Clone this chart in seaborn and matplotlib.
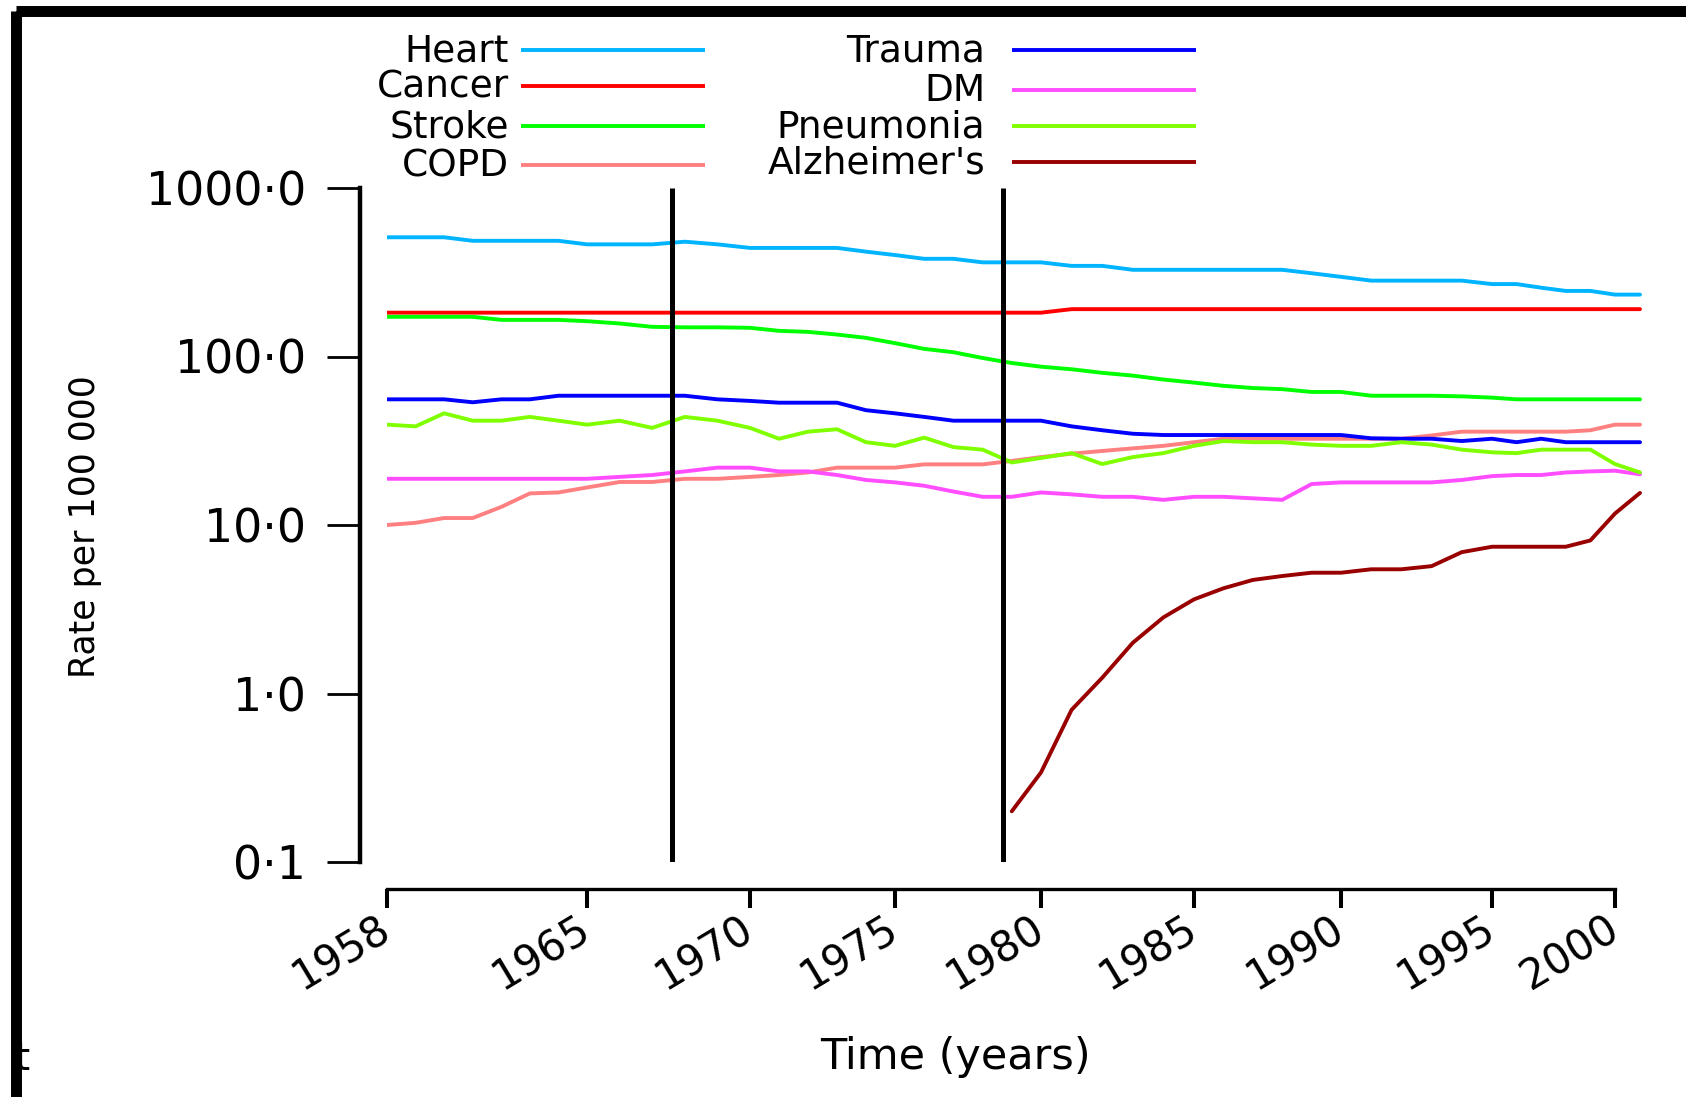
import numpy as np
import pandas as pd
import matplotlib
matplotlib.use("Agg")
import matplotlib.pyplot as plt
import seaborn as sns
from matplotlib.lines import Line2D
from matplotlib.patches import Rectangle
from matplotlib.ticker import NullLocator
from matplotlib.transforms import Affine2D

# ---------------- data ----------------
years = list(range(1958, 2002))
heart = [510, 510, 510, 486, 486, 486, 486, 463, 463, 463,
         480, 463, 441, 441, 441, 441, 419, 400, 380, 380,
         362, 362, 362, 345, 345, 327, 327, 327, 327, 327,
         327, 312, 297, 282, 282, 282, 282, 269, 269, 256,
         245, 245, 233, 233]
cancer = [182] * 23 + [191] * 21
stroke = [172, 172, 172, 172, 165, 165, 165, 162, 157, 150,
          149, 149, 148, 142, 140, 135, 129, 120, 111, 106,
          98, 91.5, 87, 84, 80, 77, 73, 70, 67, 65,
          64, 61.6, 61.6, 58.5, 58.5, 58.5, 58, 57, 55.7, 55.7,
          55.7, 55.7, 55.7, 55.7]
copd = [10.0, 10.3, 11, 11, 12.8, 15.4, 15.6, 16.7, 18, 18,
        18.8, 18.8, 19.3, 19.8, 20.5, 21.9, 21.9, 21.9, 22.9, 22.9,
        22.9, 24, 25.3, 26.5, 27.5, 28.5, 29.5, 31, 32.5, 32.5,
        32.5, 32.5, 32.5, 32.5, 32.5, 34, 35.8, 35.8, 35.8, 35.8,
        35.8, 36.5, 39.4, 39.4]
trauma = [55.7, 55.7, 55.7, 53.5, 55.7, 55.7, 58.5, 58.5, 58.5, 58.5,
          58.5, 55.7, 54.5, 53.2, 53.2, 53.2, 48, 46, 43.8, 41.6,
          41.6, 41.6, 41.6, 38.5, 36.5, 34.8, 34.2, 34.2, 34.2, 34.2,
          34.2, 34.2, 34.2, 32.7, 32.5, 32.5, 31.5, 32.5, 31, 32.5,
          31, 31, 31, 31]
dm = [18.8, 18.8, 18.8, 18.8, 18.8, 18.8, 18.8, 18.8, 19.3, 19.8,
      20.8, 21.9, 21.9, 20.8, 20.8, 19.8, 18.5, 17.9, 17.1, 15.8,
      14.7, 14.7, 15.6, 15.2, 14.7, 14.7, 14.1, 14.7, 14.7, 14.4,
      14.1, 17.5, 17.9, 17.9, 17.9, 17.9, 18.5, 19.5, 19.8, 19.8,
      20.5, 20.8, 21, 20]
pneumonia = [39.4, 38.5, 46, 41.6, 41.6, 43.8, 41.6, 39.4, 41.6, 37.7,
             43.8, 41.6, 37.7, 32.5, 35.8, 37, 31, 29.5, 33, 29,
             28, 23.5, 25, 26.7, 23, 25.3, 26.7, 29.5, 31.5, 31,
             31, 30, 29.5, 29.5, 31, 30, 28, 27, 26.7, 28,
             28, 28, 23, 20.5]
alz_years = list(range(1979, 2002))
alzheimers = [0.2, 0.34, 0.8, 1.24, 2.0, 2.83, 3.62, 4.21, 4.72, 4.98,
              5.21, 5.21, 5.46, 5.46, 5.7, 6.9, 7.43, 7.43, 7.43, 7.43,
              8.1, 11.7, 15.5]

causes = ["Heart", "Cancer", "Stroke", "COPD", "Trauma", "DM", "Pneumonia", "Alzheimer's"]
colors = ["#00B4FF", "#FF0000", "#00FF00", "#FF8080", "#0000FF", "#FF4DFF", "#80FF00", "#990000"]
icd_years = [1967.6, 1978.7]
tick_years = [1958, 1965, 1970, 1975, 1980, 1985, 1990, 1995, 2000]
tick_labels = ["1958", "1965", "1970", "1975", "1980", "1985", "1990", "1995", "2000"]
ytick_vals = [0.1, 1, 10, 100, 1000]
ytick_labels = ["0·1", "1·0", "10·0", "100·0", "1000·0"]

series = {"Heart": heart, "Cancer": cancer, "Stroke": stroke, "COPD": copd,
          "Trauma": trauma, "DM": dm, "Pneumonia": pneumonia}
rows = []
for c in causes[:-1]:
    for y, v in zip(years, series[c]):
        rows.append((c, y, v))
for y, v in zip(alz_years, alzheimers):
    rows.append(("Alzheimer's", y, v))
df = pd.DataFrame(rows, columns=["cause", "year", "rate"])

# ---------------- layout ----------------
sns.set_theme(style="ticks")
plt.rcParams["font.family"] = ["DejaVu Sans"]

W, H, DPI = 1686, 1097, 100
fig = plt.figure(figsize=(W / DPI, H / DPI), dpi=DPI, facecolor="white")
px = Affine2D().scale(1 / W, -1 / H).translate(0, 1) + fig.transFigure

ax_l, ax_r, ax_t, ax_b = 387, 1665, 188, 862
ax = fig.add_axes([ax_l / W, 1 - ax_b / H, (ax_r - ax_l) / W, (ax_b - ax_t) / H])
ax.set_facecolor("white")

# irregular year axis as drawn in the original (piecewise-linear scale)
knot_years = [1900, 1958, 1965, 1970, 1975, 1980, 1985, 1990, 1995, 2000, 2002, 2100]
knot_pos = [-1270, 387, 587, 750, 895, 1041, 1194, 1341, 1492, 1615, 1665, 4115]


def fwd(x):
    return np.interp(x, knot_years, knot_pos)


def inv(p):
    return np.interp(p, knot_pos, knot_years)


ax.set_xscale("function", functions=(fwd, inv))
ax.set_yscale("log")

sns.lineplot(data=df, x="year", y="rate", hue="cause", hue_order=causes,
             palette=colors, linewidth=2.8, legend=False, ax=ax,
             estimator=None, sort=True)

ax.vlines(icd_years, 0.1, 1000, colors="black", linewidth=3.6, zorder=5)

ax.set_xlim(1958, 2002)
ax.set_ylim(0.1, 1000)

# spines first (moving a spine rebuilds the ticks)
sns.despine(ax=ax, offset={"left": 19.4, "bottom": 19.4})
ax.spines["left"].set_bounds(0.1, 1000)
ax.spines["bottom"].set_bounds(1958, 2000)
ax.spines["left"].set_linewidth(3.2)
ax.spines["bottom"].set_linewidth(2.4)
ax.spines["left"].set_color("black")
ax.spines["bottom"].set_color("black")
ax.grid(False)

ax.tick_params(axis="y", direction="out", length=23.8, width=2.0, pad=15,
               labelsize=33, color="black", labelcolor="black")
ax.tick_params(axis="x", direction="out", length=13.7, width=2.9, pad=13,
               labelsize=30, color="black", labelcolor="black", labelrotation=31)

ax.set_xticks(tick_years)
ax.set_xticklabels(tick_labels)
ax.xaxis.set_minor_locator(NullLocator())
ax.set_yticks(ytick_vals)
ax.set_yticklabels(ytick_labels)
ax.yaxis.set_minor_locator(NullLocator())
for lbl in ax.get_xticklabels():
    lbl.set_rotation(31)
    lbl.set_horizontalalignment("right")
    lbl.set_verticalalignment("center")
    lbl.set_rotation_mode("anchor")

ax.set_ylabel("Rate per 100 000", fontsize=25, color="black")
ax.yaxis.set_label_coords((102 - ax_l) / (ax_r - ax_l), (ax_b - 527) / (ax_b - ax_t))
ax.set_xlabel("Time (years)", fontsize=31, color="black")
ax.xaxis.set_label_coords((955 - ax_l) / (ax_r - ax_l), (ax_b - 1036) / (ax_b - ax_t))

# ---------------- legend (label text, then the line sample) ----------------
leg_fs = 27
col_text_x = [509, 985]
col_line_x = [(521, 705), (1012, 1196)]
row_y = [[50, 86, 126, 165], [50, 90, 126, 162]]
cap = 0.73 * leg_fs * DPI / 72
for i, (name, col) in enumerate(zip(causes, colors)):
    c, r = divmod(i, 4)
    ly = row_y[c][r]
    fig.text(col_text_x[c], ly - 2.5 + cap / 2, name, transform=px, ha="right",
             va="baseline", fontsize=leg_fs, color="black")
    fig.add_artist(Line2D(list(col_line_x[c]), [ly, ly], transform=px,
                          color=col, linewidth=2.8, solid_capstyle="butt"))

# stray character at the lower left edge of the original
fig.text(15, 1070, "t", transform=px, ha="left", va="baseline", fontsize=28, color="black")

# figure frame
fig.add_artist(Rectangle((15.5, 11), 1689 - 15.5, 1099 - 11, transform=px,
                         fill=False, edgecolor="black", linewidth=7.9, clip_on=False))

fig.savefig("out.png", dpi=DPI, facecolor="white")
